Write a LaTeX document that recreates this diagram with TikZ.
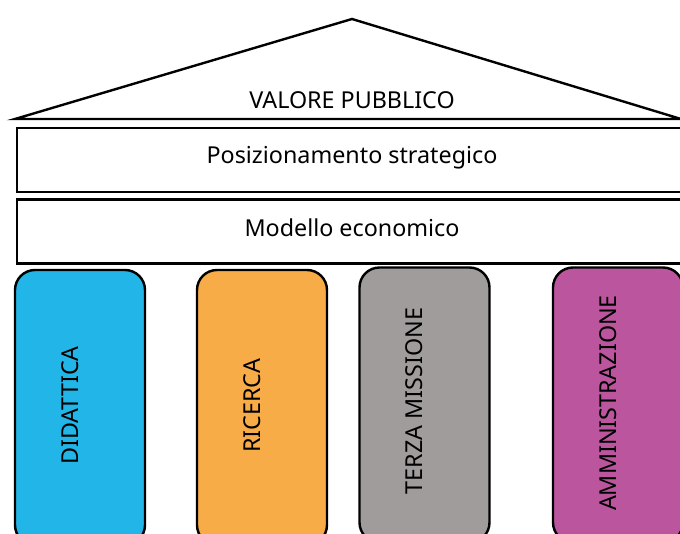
\documentclass[tikz,border=0pt]{standalone}
\usepackage{fontspec}
\setmainfont{Noto Sans}
\usepackage{tikz}
\usetikzlibrary{positioning}
\definecolor{didblue}{HTML}{22B6E8}
\definecolor{ricorange}{HTML}{F8AC48}
\definecolor{terzagray}{HTML}{A09C9C}
\definecolor{ammpurple}{HTML}{BA559E}
\tikzset{
  label/.style = {align=center, inner sep=0pt, font=\fontsize{23.3}{28}\selectfont},
  band/.style = {draw=black, line width=2.4pt, minimum width=676pt,
    minimum height=64pt, anchor=west},
  pillar/.style = {draw=black, line width=2.4pt, rounded corners=20pt,
    minimum width=130pt, minimum height=275pt},
  upright/.style = {label, rotate=90}
}

\begin{document}
\begin{tikzpicture}[x=1pt, y=-1pt]
\useasboundingbox (0,0) rectangle (680,534);
\clip (0,0) rectangle (680,534);
% roof
\coordinate (roofl) at (15,119);
\coordinate (roofr) at (681,119);
\coordinate (apex) at (352,19);
\draw [line width=2.4pt, line join=miter] (roofl) -- (apex) -- (roofr) -- cycle;
\node [label] (valore) at (352,100) {VALORE PUBBLICO};
% bands
\node [band] (pos) at (16,160) {};
\node [label] at (352,158) {Posizionamento strategico};
\node [band] (mod) at (16,231.5) {};
\node [label] at (352,228) {Modello economico};
% pillars
\node [pillar, fill=didblue] (did) at (80,407.5) {};
\node [pillar, fill=ricorange] (ric) at (262,407.5) {};
\node [pillar, fill=terzagray] (terza) at (424.5,405) {};
\node [pillar, fill=ammpurple] (amm) at (618,405) {};
\node [upright] at ([xshift=-10pt, yshift=2pt]did.center) {DIDATTICA};
\node [upright] at ([xshift=-10pt, yshift=2pt]ric.center) {RICERCA};
\node [upright] at ([xshift=-10pt, yshift=4pt]terza.center) {TERZA MISSIONE};
\node [upright] at ([xshift=-10pt, yshift=2pt]amm.center) {AMMINISTRAZIONE};
\end{tikzpicture}
\end{document}
